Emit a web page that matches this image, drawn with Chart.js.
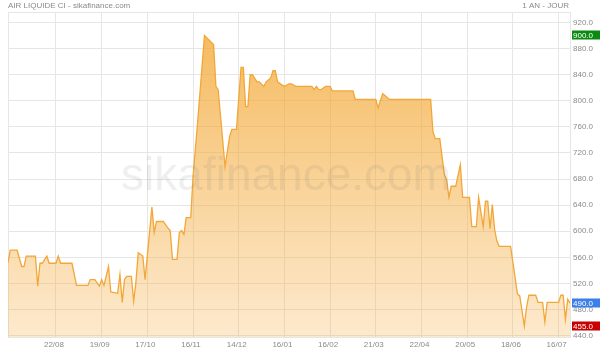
<!DOCTYPE html>
<html>
<head>
<meta charset="utf-8">
<script src="https://cdn.jsdelivr.net/npm/chart.js@4/dist/chart.umd.min.js"></script>
<style>
  html, body { margin: 0; padding: 0; background: #fff; }
  #wrap { width: 600px; height: 351px; position: relative; }
</style>
</head>
<body>
<div id="wrap"><canvas id="chart" width="600" height="351"></canvas></div>
<script>
// trading day index (0 = first day of the year window) and closing price at each vertex of the line
const dayIndex = [0, 1, 4, 6, 7, 8, 12, 13, 14, 15, 17, 18, 21, 22, 23, 28, 30, 35, 36, 38,
    40, 41, 42, 44, 45, 48, 49, 50, 51, 52, 54, 55, 56, 57, 59, 60, 63, 64, 65, 68,
    70, 71, 72, 74, 75, 76, 77, 78, 80, 81, 83, 86, 90, 91, 92, 95, 97, 98, 100, 102,
    103, 104, 105, 106, 107, 109, 110, 112, 113, 115, 116, 117, 118, 120, 121, 123, 124, 126, 133, 134,
    135, 136, 137, 139, 141, 142, 151, 152, 161, 162, 164, 165, 167, 185, 186, 187, 189, 191, 192, 193,
    194, 196, 198, 199, 202, 203, 205, 206, 208, 209, 210, 211, 212, 213, 214, 215, 220, 223, 224, 226,
    227, 228, 231, 232, 234, 235, 236, 241, 242, 243, 244, 245, 246];
const price = [552, 571, 571, 546, 546, 562, 562, 516, 551, 551, 562, 551, 551, 562, 551, 551, 517, 517, 526, 526,
    516, 526, 517, 546, 507, 505, 534, 491, 526, 531, 531, 493, 522, 567, 562, 526, 637, 598, 615, 615,
    605, 601, 557, 557, 598, 601, 595, 621, 621, 684, 767, 900, 886, 822, 817, 699, 745, 756, 756, 851,
    851, 791, 791, 840, 840, 829, 829, 822, 829, 835, 846, 846, 829, 824, 822, 826, 826, 822, 822, 817,
    822, 817, 817, 822, 822, 815, 815, 802, 802, 789, 811, 808, 802, 802, 753, 742, 742, 687, 679, 652,
    669, 669, 702, 652, 652, 607, 607, 652, 607, 646, 646, 604, 641, 603, 585, 577, 577, 504, 501, 455,
    484, 502, 502, 491, 491, 461, 491, 491, 502, 502, 465, 496, 490];

const tickDays = [21, 41, 61, 81, 101, 121, 141, 161, 181, 201, 221, 241];
const tickLabels = ['22/08', '19/09', '17/10', '16/11', '14/12', '16/01', '16/02', '21/03', '22/04', '20/05', '18/06', '16/07'];
const priceTicks = [440, 480, 520, 560, 600, 640, 680, 720, 760, 800, 840, 880, 920];

const title = 'AIR LIQUIDE CI - sikafinance.com';
const period = '1 AN - JOUR';
const maxPrice = 900.0;
const minPrice = 455.0;
const lastPrice = 490.0;

const gridColor = '#e6e6e6';
const textColor = '#8a8a8a';
const fontFamily = 'Liberation Sans, Arial, sans-serif';
const font = { family: fontFamily, size: 8 };

const decorations = {
    id: 'decorations',
    beforeDatasetsDraw(chart) {
        const { ctx, chartArea } = chart;
        ctx.save();
        ctx.strokeStyle = gridColor;
        ctx.lineWidth = 1;
        ctx.strokeRect(chartArea.left + 0.5, chartArea.top + 0.5,
            chartArea.right - chartArea.left, chartArea.bottom - chartArea.top);
        ctx.restore();
    },
    afterDatasetsDraw(chart) {
        const { ctx } = chart;
        ctx.save();
        ctx.font = '46px ' + fontFamily;
        ctx.fillStyle = 'rgba(110, 110, 110, 0.11)';
        ctx.textAlign = 'center';
        ctx.textBaseline = 'alphabetic';
        ctx.fillText('sikafinance.com', 286, 190);
        ctx.restore();
    },
    afterDraw(chart) {
        const { ctx, chartArea, scales } = chart;
        ctx.save();
        ctx.font = '8px ' + fontFamily;
        ctx.fillStyle = textColor;
        ctx.textBaseline = 'middle';
        ctx.textAlign = 'left';
        ctx.fillText(title, 8, 6);
        ctx.textAlign = 'right';
        ctx.fillText(period, chartArea.right - 1, 6);

        // price badges on the right axis
        const badge = (value, color) => {
            const y = Math.round(scales.y.getPixelForValue(value));
            ctx.fillStyle = color;
            ctx.fillRect(chartArea.right + 2, y - 4.5, 28, 9);
            ctx.fillStyle = '#fff';
            ctx.textAlign = 'left';
            ctx.fillText(value.toFixed(1), chartArea.right + 3, y + 0.5);
        };
        badge(maxPrice, '#0b8a12');
        badge(minPrice, '#c80000');
        badge(lastPrice, '#3b7fe8');
        ctx.restore();
    }
};

const ctx = document.getElementById('chart').getContext('2d');
new Chart(ctx, {
    type: 'line',
    data: {
        datasets: [{
            data: dayIndex.map((d, i) => ({ x: d, y: price[i] })),
            borderColor: '#f2a738',
            borderWidth: 1.3,
            pointRadius: 0,
            tension: 0,
            fill: 'start',
            backgroundColor: (c) => {
                const area = c.chart.chartArea;
                if (!area) return 'rgba(245,175,70,0.5)';
                const g = c.chart.ctx.createLinearGradient(0, area.top, 0, area.bottom);
                g.addColorStop(0, 'rgba(242,165,45,0.8)');
                g.addColorStop(1, 'rgba(245,175,70,0.27)');
                return g;
            }
        }]
    },
    options: {
        responsive: false,
        animation: false,
        events: [],
        layout: { padding: { left: 8, top: 12, right: 0, bottom: 0 } },
        plugins: { legend: { display: false }, tooltip: { enabled: false }, title: { display: false } },
        scales: {
            x: {
                type: 'linear',
                min: 0,
                max: 246,
                grid: { color: gridColor, drawTicks: false },
                border: { display: false },
                afterBuildTicks: (scale) => { scale.ticks = tickDays.map(v => ({ value: v })); },
                afterFit: (scale) => { scale.height = 14; },
                ticks: {
                    autoSkip: false,
                    maxRotation: 0,
                    padding: 3,
                    labelOffset: -2,
                    color: textColor,
                    font: font,
                    callback: (v, i) => tickLabels[i]
                }
            },
            y: {
                position: 'right',
                min: 438,
                max: 936,
                grid: { color: gridColor, drawTicks: false },
                border: { display: false },
                afterBuildTicks: (scale) => { scale.ticks = priceTicks.map(v => ({ value: v })); },
                afterFit: (scale) => { scale.width = 30; },
                ticks: {
                    padding: 3,
                    color: textColor,
                    font: font,
                    callback: (v) => Number(v).toFixed(1)
                }
            }
        }
    },
    plugins: [decorations]
});
</script>
</body>
</html>
